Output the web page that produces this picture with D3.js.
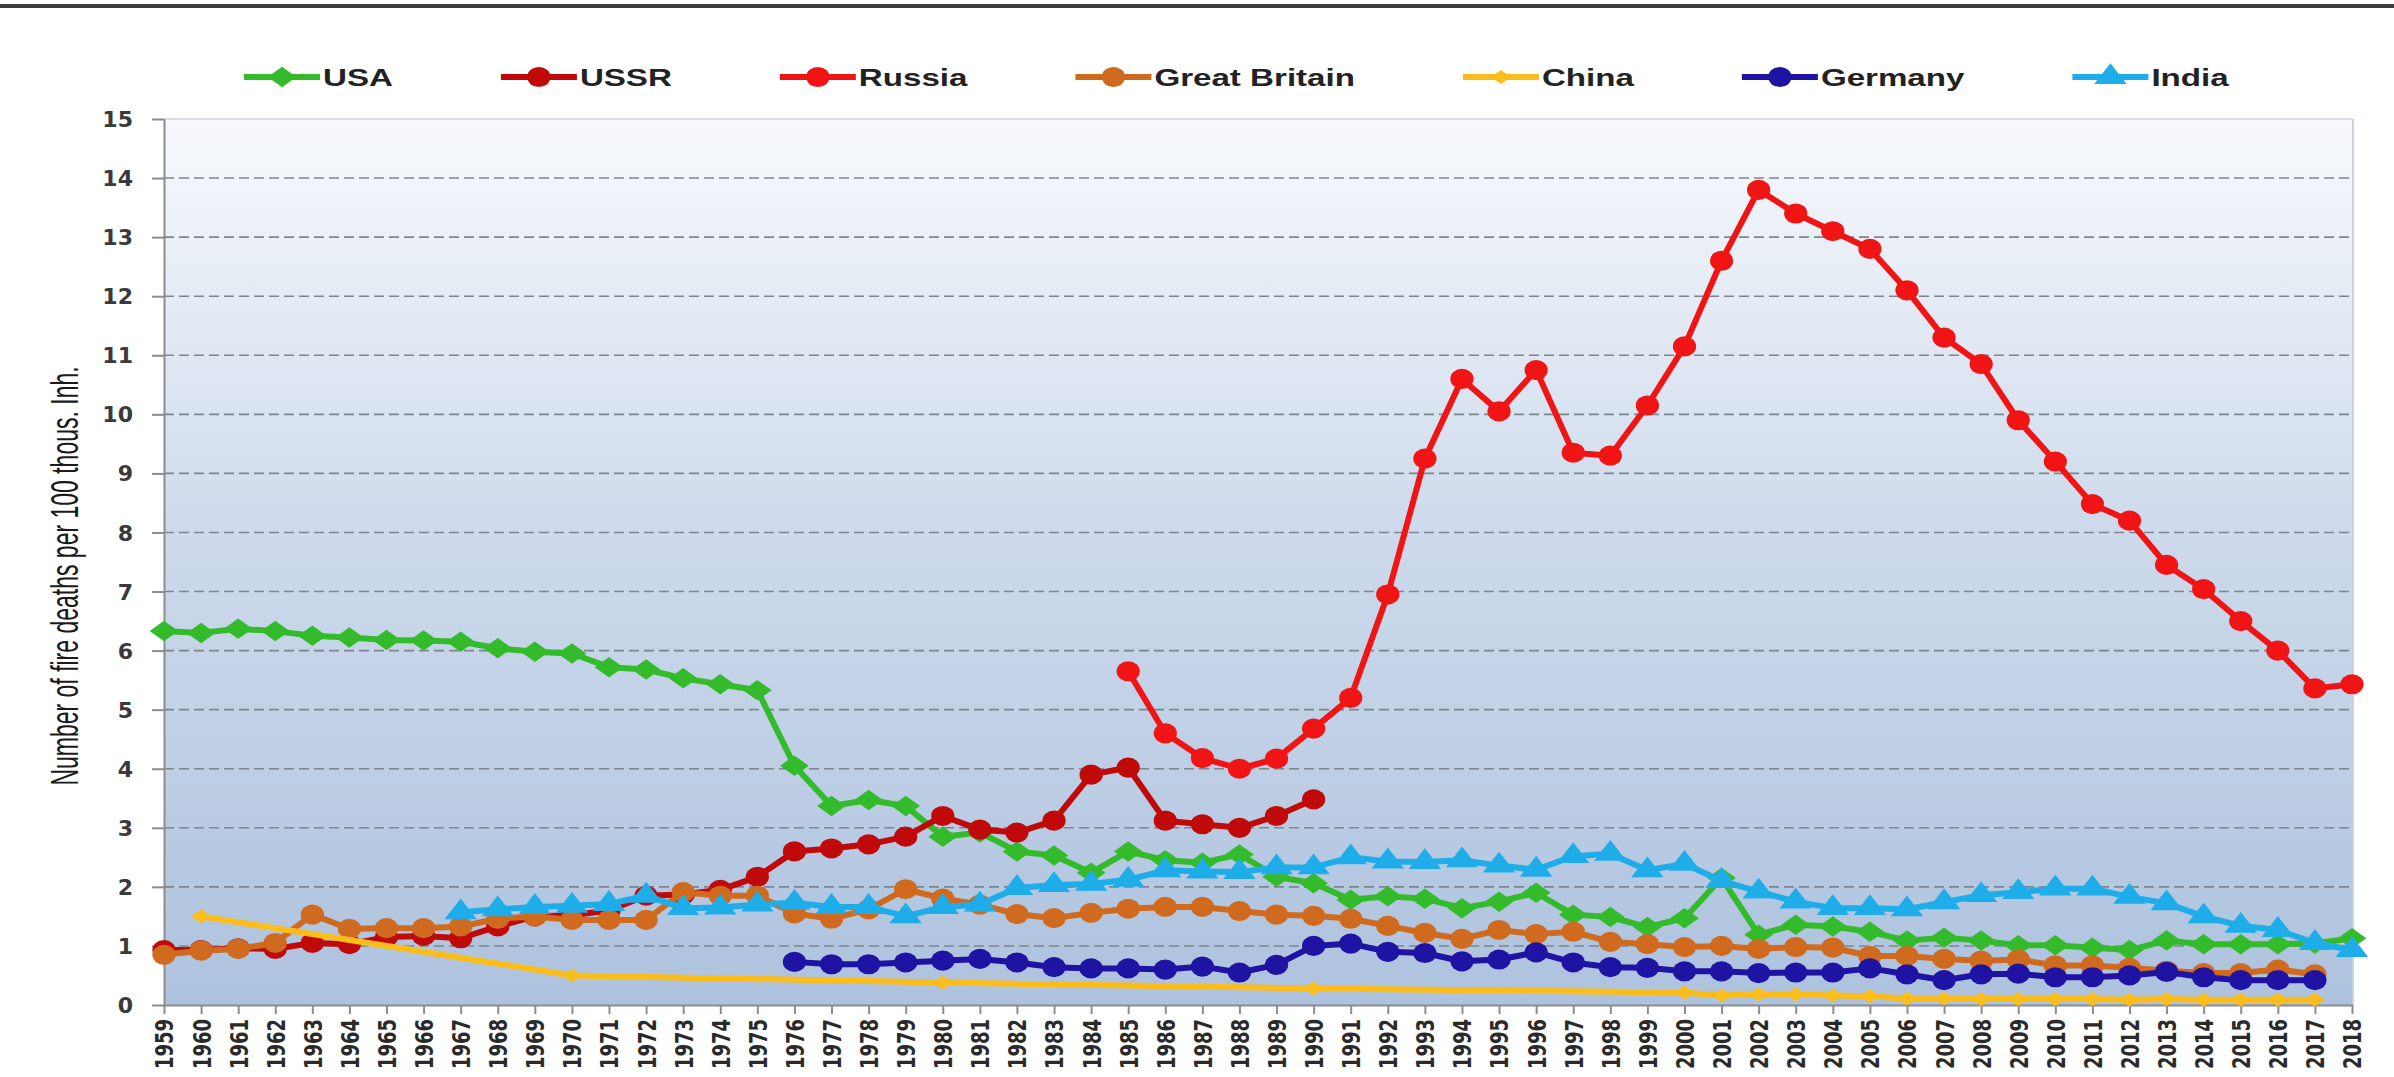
<!DOCTYPE html>
<html>
<head>
<meta charset="utf-8">
<script src="https://cdn.jsdelivr.net/npm/d3@7"></script>
<style>
  body { margin: 0; background: #fff; }
  svg { display: block; }
</style>
</head>
<body>
<svg id="chart" width="2394" height="1077"></svg>
<script>
// x categories and y ticks
var years = d3.range(1959, 2019);
var yTicks = d3.range(0, 16);

// fire deaths per 100 thous. inhabitants
var usaValues = [6.33, 6.3, 6.37, 6.33, 6.25, 6.22, 6.18, 6.17, 6.15, 6.04,
  5.98, 5.95, 5.72, 5.68, 5.53, 5.43, 5.33, 4.05, 3.37, 3.47,
  3.37, 2.85, 2.92, 2.6, 2.53, 2.24, 2.6, 2.45, 2.41, 2.55,
  2.17, 2.06, 1.78, 1.84, 1.8, 1.64, 1.75, 1.9, 1.53, 1.49,
  1.32, 1.47, 2.15, 1.19, 1.36, 1.33, 1.24, 1.09, 1.14, 1.09,
  1.01, 1.01, 0.97, 0.93, 1.09, 1.03, 1.03, 1.03, 1.04, 1.13];
var ussrValues = [0.93, 0.93, 0.96, 0.95, 1.05, 1.03, 1.15, 1.17, 1.13, 1.33,
  1.5, 1.52, 1.6, 1.85, 1.87, 1.95, 2.17, 2.6, 2.65, 2.72,
  2.85, 3.2, 2.97, 2.92, 3.12, 3.9, 4.02, 3.12, 3.06, 3.0,
  3.2, 3.48];
var russiaValues = [5.65, 4.6, 4.18, 4.0, 4.17, 4.68, 5.2, 6.95, 9.25, 10.6,
  10.05, 10.75, 9.35, 9.3, 10.15, 11.15, 12.6, 13.8, 13.4, 13.1,
  12.8, 12.1, 11.3, 10.85, 9.9, 9.2, 8.48, 8.2, 7.45, 7.04,
  6.5, 6.0, 5.36, 5.43];
var britainValues = [0.85, 0.92, 0.95, 1.05, 1.53, 1.29, 1.3, 1.3, 1.33, 1.46,
  1.5, 1.44, 1.44, 1.44, 1.91, 1.85, 1.85, 1.55, 1.46, 1.62,
  1.96, 1.8, 1.7, 1.54, 1.47, 1.56, 1.63, 1.66, 1.66, 1.59,
  1.53, 1.51, 1.46, 1.34, 1.22, 1.12, 1.27, 1.2, 1.24, 1.07,
  1.03, 0.98, 1.0, 0.95, 0.98, 0.97, 0.83, 0.83, 0.78, 0.75,
  0.77, 0.67, 0.67, 0.63, 0.58, 0.54, 0.54, 0.6, 0.52];
var chinaYears = [1960, 1970, 1980, 1990, 2000, 2001, 2002, 2003, 2004, 2005,
  2006, 2007, 2008, 2009, 2010, 2011, 2012, 2013, 2014, 2015, 2016, 2017];
var chinaValues = [1.5, 0.5, 0.38, 0.28, 0.21, 0.16, 0.18, 0.18, 0.16, 0.15,
  0.11, 0.11, 0.1, 0.1, 0.1, 0.1, 0.09, 0.1, 0.09, 0.09, 0.09, 0.09];
var germanyValues = [0.73, 0.69, 0.69, 0.72, 0.75, 0.78, 0.72, 0.64, 0.62, 0.62,
  0.6, 0.65, 0.55, 0.68, 1.0, 1.04, 0.9, 0.88, 0.74, 0.77,
  0.89, 0.72, 0.64, 0.63, 0.57, 0.57, 0.54, 0.55, 0.55, 0.62,
  0.52, 0.42, 0.52, 0.53, 0.47, 0.47, 0.5, 0.56, 0.47, 0.42,
  0.42, 0.42];
var indiaValues = [1.57, 1.62, 1.66, 1.68, 1.71, 1.85, 1.64, 1.65, 1.7, 1.73,
  1.66, 1.66, 1.5, 1.66, 1.7, 1.98, 2.03, 2.05, 2.12, 2.28,
  2.26, 2.25, 2.33, 2.33, 2.5, 2.43, 2.42, 2.45, 2.36, 2.29,
  2.52, 2.56, 2.28, 2.39, 2.1, 1.92, 1.75, 1.64, 1.64, 1.62,
  1.74, 1.86, 1.91, 1.97, 1.97, 1.83, 1.72, 1.5, 1.34, 1.27,
  1.05, 0.93];

var seriesNames = ["USA", "USSR", "Russia", "Great Britain", "China", "Germany", "India"];
var seriesColors = ["#34bb2c", "#c00a0a", "#f01414", "#cf6a1e", "#fbbd1c", "#1f13a4", "#1fadea"];
var seriesMarkers = ["diamond", "circle", "circle", "circle", "smallDiamond", "circle", "triangle"];

function fromYear(start, values) {
  return values.map(function(v, i) { return {year: start + i, value: v}; });
}
var seriesPoints = [
  fromYear(1959, usaValues),
  fromYear(1959, ussrValues),
  fromYear(1985, russiaValues),
  fromYear(1959, britainValues),
  chinaYears.map(function(yr, i) { return {year: yr, value: chinaValues[i]}; }),
  fromYear(1976, germanyValues),
  fromYear(1967, indiaValues)
];

// the picture is stretched sideways, so glyphs and markers are too
var stretch = 1.38;
var svg = d3.select("#chart");
var plotLeft = 164, plotRight = 2352, plotTop = 119, plotBottom = 1005;

var x = d3.scalePoint().domain(years).range([plotLeft, plotRight]);
var y = d3.scaleLinear().domain([0, 15]).range([plotBottom, plotTop]);

// dark rule along the top of the picture
svg.append("rect").attr("x", 0).attr("y", 4).attr("width", 2394).attr("height", 4).attr("fill", "#3c3c3c");

var defs = svg.append("defs");
var grad = defs.append("linearGradient").attr("id", "plotBg")
  .attr("x1", 0).attr("y1", 0).attr("x2", 0).attr("y2", 1);
grad.append("stop").attr("offset", "0%").attr("stop-color", "#f7f9fc");
grad.append("stop").attr("offset", "45%").attr("stop-color", "#cfdbec");
grad.append("stop").attr("offset", "100%").attr("stop-color", "#adc2de");

svg.append("rect")
  .attr("x", plotLeft).attr("y", plotTop)
  .attr("width", plotRight - plotLeft).attr("height", plotBottom - plotTop)
  .attr("fill", "url(#plotBg)");
svg.append("line")
  .attr("x1", plotLeft).attr("x2", plotRight).attr("y1", plotTop).attr("y2", plotTop)
  .attr("stroke", "#d8dde4").attr("stroke-width", 2);
svg.append("line")
  .attr("x1", plotRight + 1).attr("x2", plotRight + 1).attr("y1", plotTop).attr("y2", plotBottom)
  .attr("stroke", "#c9d1dc").attr("stroke-width", 2);

// dashed grid lines
svg.append("g")
  .selectAll("line")
  .data(yTicks.filter(function(d) { return d > 0 && d < 15; }))
  .enter()
  .append("line")
  .attr("x1", plotLeft).attr("x2", plotRight)
  .attr("y1", function(d) { return y(d); })
  .attr("y2", function(d) { return y(d); })
  .attr("stroke", "#7d8590")
  .attr("stroke-width", 1.6)
  .attr("stroke-dasharray", "10,5");

// axes
var yAxis = svg.append("g")
  .attr("transform", "translate(" + plotLeft + ",0)")
  .call(d3.axisLeft(y).tickValues(yTicks).tickSize(12).tickSizeOuter(0).tickFormat(d3.format("d")));
yAxis.selectAll("text")
  .attr("x", -31 / 1.05)
  .attr("dy", "0.36em")
  .attr("transform", "scale(1.05,1)")
  .style("font-family", "'DejaVu Sans', Verdana, sans-serif")
  .style("font-weight", "bold")
  .style("font-size", "21px")
  .style("fill", "#3a3a3a");

var xAxis = svg.append("g")
  .attr("transform", "translate(0," + plotBottom + ")")
  .call(d3.axisBottom(x).tickSize(9).tickSizeOuter(0));
xAxis.selectAll("text")
  .attr("x", -14)
  .attr("y", 0)
  .attr("dy", "0.36em")
  .attr("transform", "scale(" + stretch + ",1) rotate(-90)")
  .style("text-anchor", "end")
  .style("font-family", "'DejaVu Sans', Verdana, sans-serif")
  .style("font-weight", "bold")
  .style("font-size", "18px")
  .style("fill", "#2a2a2a");

svg.selectAll(".domain, .tick line")
  .attr("stroke", "#8c8c8c")
  .attr("stroke-width", 2);

svg.append("text")
  .attr("transform", "translate(64," + ((plotTop + plotBottom) / 2 + 14) + ") scale(1.7,1) rotate(-90)")
  .attr("text-anchor", "middle")
  .attr("dy", "0.35em")
  .style("font-family", "'Liberation Sans', Arial, sans-serif")
  .style("font-size", "23px")
  .style("fill", "#1a1a1a")
  .text("Number of fire deaths per 100 thous. Inh.");

// marker shapes
var diamondShape = {
  draw: function(ctx, size) {
    var r = Math.sqrt(size / 2);
    ctx.moveTo(0, -r); ctx.lineTo(r, 0); ctx.lineTo(0, r); ctx.lineTo(-r, 0); ctx.closePath();
  }
};
var markerSymbols = {
  diamond: d3.symbol().type(diamondShape).size(210),
  smallDiamond: d3.symbol().type(diamondShape).size(100),
  circle: d3.symbol().type(d3.symbolCircle).size(320),
  triangle: d3.symbol().type(d3.symbolTriangle).size(250)
};
var markerStretch = {diamond: 1.4, smallDiamond: 1.4, circle: 1.15, triangle: 1.35};

var line = d3.line()
  .x(function(d) { return x(d.year); })
  .y(function(d) { return y(d.value); });

var plot = svg.append("g");
seriesPoints.forEach(function(points, i) {
  var g = plot.append("g").attr("class", "series");
  g.append("path")
    .datum(points)
    .attr("d", line)
    .attr("fill", "none")
    .attr("stroke", seriesColors[i])
    .attr("stroke-width", 6)
    .attr("stroke-linejoin", "round");
  g.selectAll(".mark")
    .data(points)
    .enter()
    .append("path")
    .attr("class", "mark")
    .attr("d", markerSymbols[seriesMarkers[i]])
    .attr("transform", function(d) {
      return "translate(" + x(d.year) + "," + y(d.value) + ") scale(" + markerStretch[seriesMarkers[i]] + ",1)";
    })
    .attr("fill", seriesColors[i]);
});

// legend
var legend = svg.append("g").attr("transform", "translate(0,77)");
var cx = 282;
seriesNames.forEach(function(name, i) {
  var item = legend.append("g").attr("transform", "translate(" + cx + ",0)");
  item.append("line")
    .attr("x1", -38).attr("x2", 38)
    .attr("stroke", seriesColors[i]).attr("stroke-width", 6);
  item.append("path")
    .attr("d", markerSymbols[seriesMarkers[i]])
    .attr("transform", "scale(" + markerStretch[seriesMarkers[i]] + ",1)")
    .attr("fill", seriesColors[i]);
  var label = item.append("text")
    .attr("transform", "translate(41,0) scale(" + stretch + ",1)")
    .attr("dy", "0.36em")
    .style("font-family", "'Liberation Sans', Arial, sans-serif")
    .style("font-weight", "bold")
    .style("font-size", "24px")
    .style("fill", "#222")
    .text(name);
  var w = label.node().getComputedTextLength() * stretch;
  cx += 41 + w + 108 + 38;
});
</script>
</body>
</html>
